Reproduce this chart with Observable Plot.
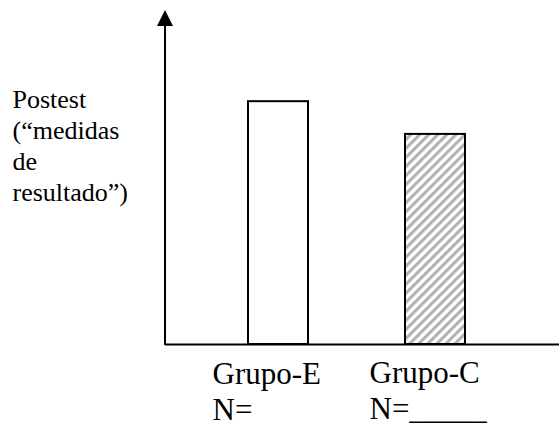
<!DOCTYPE html>
<html>
<head>
<meta charset="utf-8">
<script src="https://cdn.jsdelivr.net/npm/d3@7"></script>
<script src="https://cdn.jsdelivr.net/npm/@observablehq/plot@0.6"></script>
<style>
  html, body { margin: 0; padding: 0; background: #fff; }
  svg { display: block; }
  svg text { font-family: "Liberation Serif", "Times New Roman", serif; }
</style>
</head>
<body>
<div id="chart"></div>
<script>
// Data
const groups = ["Grupo-E", "Grupo-C"];
const values = [72.7, 62.9];
const nLabels = ["N=", "N=_____"];
const yLabel = "Postest\n(“medidas\nde\nresultado”)";

const data = groups.map((g, i) => ({group: g, value: values[i], n: nLabels[i]}));

const serif = "Liberation Serif";

// y axis line with arrowhead + hatch pattern defs
const axisArrow = (index, scales, channels, dimensions) => {
  const {marginLeft, marginTop, height, marginBottom} = dimensions;
  const x = marginLeft, y0 = height - marginBottom, y1 = marginTop;
  const g = d3.create("svg:g");
  const defs = g.append("defs");
  const p = defs.append("pattern")
    .attr("id", "hatch")
    .attr("patternUnits", "userSpaceOnUse")
    .attr("width", 6.4).attr("height", 6.4)
    .attr("patternTransform", "rotate(45)");
  p.append("rect").attr("width", 6.4).attr("height", 6.4).attr("fill", "white");
  p.append("line").attr("x1", 1.6).attr("x2", 1.6).attr("y1", 0).attr("y2", 6.4)
    .attr("stroke", "#b0b0b0").attr("stroke-width", 3);
  g.append("line")
    .attr("x1", x).attr("x2", x).attr("y1", y0 + 1).attr("y2", y1 + 14)
    .attr("stroke", "black").attr("stroke-width", 2);
  g.append("path")
    .attr("d", `M${x},${y1}L${x - 8},${y1 + 16}L${x + 8},${y1 + 16}Z`)
    .attr("fill", "black");
  return g.node();
};

const label = d => d.group + "\n" + d.n;

const chart = Plot.plot({
  width: 559,
  height: 425,
  marginLeft: 165,
  marginRight: 0,
  marginTop: 10,
  marginBottom: 81,
  style: {background: "white", overflow: "visible"},
  x: {domain: groups, range: [247.5, 465.75], paddingInner: 0.6165, paddingOuter: 0, axis: null},
  y: {domain: [0, 100], axis: null},
  marks: [
    axisArrow,
    Plot.barY(data.filter(d => d.group === "Grupo-E"), {x: "group", y: "value", fill: "white", stroke: "black", strokeWidth: 2}),
    Plot.barY(data.filter(d => d.group === "Grupo-C"), {x: "group", y: "value", fill: "url(#hatch)", stroke: "black", strokeWidth: 2}),
    Plot.ruleY([0], {stroke: "black", strokeWidth: 2}),
    Plot.text(data.filter(d => d.group === "Grupo-E"), {x: "group", y: () => 0, text: label, textAnchor: "start", lineAnchor: "bottom", lineHeight: 1.13, dx: -66, dy: 75, fontSize: 31, fontFamily: serif, fill: "black"}),
    Plot.text(data.filter(d => d.group === "Grupo-C"), {x: "group", y: () => 0, text: label, textAnchor: "start", lineAnchor: "bottom", lineHeight: 1.16, dx: -66, dy: 74, fontSize: 31, fontFamily: serif, fill: "black"}),
    Plot.text([yLabel], {frameAnchor: "top-left", textAnchor: "start", lineAnchor: "top", dx: -153, dy: 75.5, fontSize: 26, lineHeight: 1.19, fontFamily: serif, fill: "black"})
  ]
});

document.getElementById("chart").appendChild(chart);
</script>
</body>
</html>
